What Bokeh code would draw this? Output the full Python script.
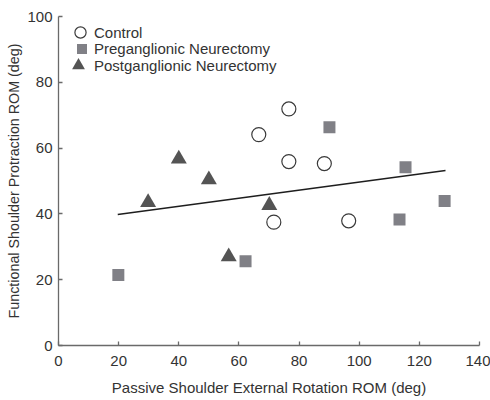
from bokeh.plotting import figure
from bokeh.models import Range1d, Legend, LegendItem
from bokeh.embed import file_html
from bokeh.resources import INLINE

# Data
control_x = [76.6, 66.6, 76.6, 88.4, 71.6, 96.5]
control_y = [71.9, 64.1, 55.9, 55.3, 37.5, 37.9]

pre_x = [19.9, 62.2, 90.1, 113.4, 115.4, 128.4]
pre_y = [21.4, 25.6, 66.3, 38.3, 54.2, 43.9]

post_x = [29.8, 40.0, 50.0, 56.6, 70.1]
post_y = [43.5, 56.7, 50.4, 27.0, 42.6]

fit_x = [19.7, 128.7]
fit_y = [39.8, 53.2]

x_ticks = [0, 20, 40, 60, 80, 100, 120, 140]
y_ticks = [0, 20, 40, 60, 80, 100]

labels = ["Control", "Preganglionic Neurectomy", "Postganglionic Neurectomy"]

FONT = "Liberation Sans"
TXT = "#333333"
AX = "#6a6a6a"

p = figure(frame_width=421, frame_height=329, output_backend="svg", toolbar_location=None,
           x_range=Range1d(0, 140), y_range=Range1d(0, 100),
           min_border_left=58, min_border_right=11, min_border_top=16, min_border_bottom=55)
p.outline_line_color = None
p.grid.visible = False
p.background_fill_color = "white"
p.border_fill_color = "white"

p.line(fit_x, fit_y, line_color="#1e1e1e", line_width=1.6)

r_c = p.scatter(control_x, control_y, marker="circle", size=14, fill_color="white",
                line_color="#3a3a3a", line_width=1.2)
r_pre = p.scatter(pre_x, pre_y, marker="square", size=12, fill_color="#808086",
                  line_color=None)
r_post = p.scatter(post_x, post_y, marker="triangle", size=16, fill_color="#545454",
                   line_color=None)

for ax in (p.xaxis[0], p.yaxis[0]):
    ax.axis_line_color = AX
    ax.axis_line_width = 1.3
    ax.major_tick_line_color = AX
    ax.major_tick_line_width = 1.3
    ax.major_tick_in = 4
    ax.major_tick_out = 0
    ax.minor_tick_line_color = None
    ax.major_label_text_font = FONT
    ax.major_label_text_font_size = "15px"
    ax.major_label_text_color = TXT
    ax.axis_label_text_font = FONT
    ax.axis_label_text_font_size = "15px"
    ax.axis_label_text_color = TXT
    ax.axis_label_text_font_style = "normal"

p.yaxis.axis_label_text_font_size = "14.3px"
p.xaxis.ticker = x_ticks
p.yaxis.ticker = y_ticks
p.xaxis.axis_label = "Passive Shoulder External Rotation ROM (deg)"
p.yaxis.axis_label = "Functional Shoulder Protraction ROM (deg)"
p.xaxis.major_label_standoff = 10
p.xaxis.axis_label_standoff = 10
p.yaxis.major_label_standoff = 6
p.yaxis.axis_label_standoff = 2

# one legend per entry so rows can sit close together with full-size glyphs
legend_specs = [
    # renderer, label, glyph box, x offset, y (bottom) offset
    (r_c, labels[0], 28, 8, 299),
    (r_pre, labels[1], 25, 11, 284),
    (r_post, labels[2], 32, 4, 264),
]
for rend, lab, box, lx, ly in legend_specs:
    lg = Legend(items=[LegendItem(label=lab, renderers=[rend])],
                location=(lx, ly), glyph_width=box, glyph_height=box,
                label_standoff=0, padding=0, margin=0, spacing=0,
                label_text_font=FONT, label_text_font_size="15px", label_text_color=TXT,
                background_fill_alpha=0, border_line_color=None)
    p.add_layout(lg, "center")

open("out.html", "w").write(file_html(p, INLINE))
